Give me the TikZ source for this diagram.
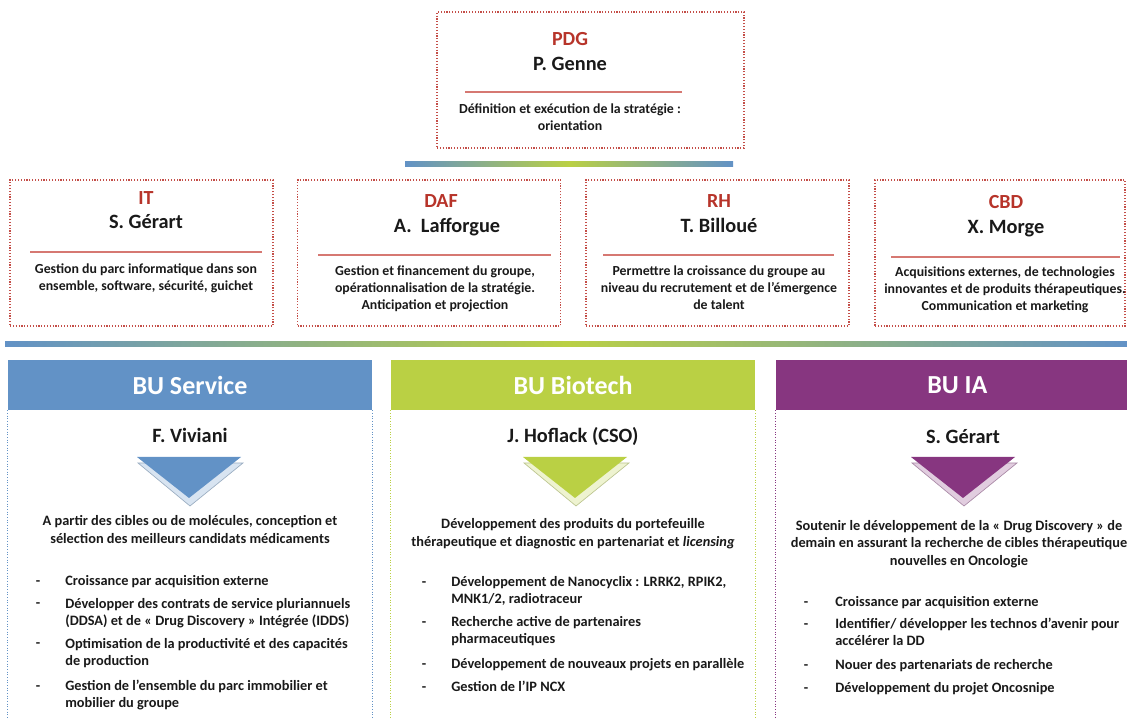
\documentclass[tikz,border=0pt]{standalone}
\usepackage{fontspec}
\setmainfont{Carlito}
\usepackage{xcolor}
\usetikzlibrary{positioning}
\definecolor{rolered}{RGB}{183,52,42}
\definecolor{boxred}{RGB}{196,78,72}
\definecolor{rulered}{RGB}{214,120,114}
\definecolor{txtdark}{RGB}{25,25,25}
\definecolor{bublue}{RGB}{98,146,198}
\definecolor{bugreen}{RGB}{186,208,68}
\definecolor{bupurple}{RGB}{135,54,128}

\begin{document}
\begin{tikzpicture}[x=0.6pt,y=-0.6pt,every node/.style={font=\bfseries,text=txtdark,inner sep=0pt}]
  \tikzset{
    box/.style={draw=boxred,densely dotted,line width=0.7pt,minimum width=157.8pt,minimum height=87.6pt},
    role/.style={anchor=base,text=rolered,font=\bfseries\fontsize{12}{14}\selectfont},
    who/.style={anchor=base,font=\bfseries\fontsize{12.2}{14}\selectfont},
    sep/.style={draw=rulered,line width=0.8pt},
    desc/.style={anchor=base,align=center,font=\bfseries\fontsize{8.3}{10.2}\selectfont},
    budesc/.style={anchor=base,align=center,font=\bfseries\fontsize{8.6}{10.8}\selectfont},
    bar/.style={left color=bublue,right color=bublue,middle color=bugreen,minimum height=3pt},
    buhead/.style={text=white,font=\bfseries\fontsize{15.6}{17}\selectfont,minimum width=218.4pt,minimum height=30pt},
    buline/.style={densely dotted,line width=0.6pt},
    buitem/.style={anchor=base west,align=left,font=\bfseries\fontsize{8.6}{10.2}\selectfont},
    bullet/.style={anchor=base,font=\bfseries\fontsize{8.6}{10.2}\selectfont}
  }
  \useasboundingbox (0,0) rectangle (1127,718);
  % direction
  \node[box,minimum width=184.2pt,minimum height=81.6pt] (pdg) at (590.5,80) {};
  \node[role] (pdgrole) at (570,46) {PDG};
  \node[who] (pdgname) at (570,71) {P. Genne};
  \draw[sep] (465,92) -- (682,92);
  \node[desc] (pdgdesc) at (570,131) {Définition et exécution de la stratégie :\\ orientation};
  \node[bar,minimum width=196.8pt] (bar1) at (569,164.5) {};
  % fonctions
  \node[box] (it) at (141.5,253) {};
  \node[role] (itrole) at (146,205) {IT};
  \node[who] (itname) at (146,229) {S. Gérart};
  \draw[sep] (30,252) -- (262,252);
  \node[desc] (itdesc) at (146,291) {Gestion du parc informatique dans son\\ ensemble, software, sécurité, guichet};
  \node[box] (daf) at (429,253) {};
  \node[role] (dafrole) at (441,208) {DAF};
  \node[who] (dafname) at (447,233) {A.~~Lafforgue};
  \draw[sep] (318,255) -- (551,255);
  \node[desc] (dafdesc) at (435,310) {Gestion et financement du groupe,\\ opérationnalisation de la stratégie.\\ Anticipation et projection};
  \node[box] (rh) at (717.5,253) {};
  \node[role] (rhrole) at (719,208) {RH};
  \node[who] (rhname) at (719,233) {T. Billoué};
  \draw[sep] (603,255) -- (834,255);
  \node[desc] (rhdesc) at (719,310) {Permettre la croissance du groupe au\\ niveau du recrutement et de l’émergence\\ de talent};
  \node[box,minimum width=150pt] (cbd) at (1000,253) {};
  \node[role] (cbdrole) at (1006,209) {CBD};
  \node[who] (cbdname) at (1006,234) {X. Morge};
  \draw[sep] (891,257) -- (1120,257);
  \node[desc] (cbddesc) at (1005,311) {Acquisitions externes, de technologies\\ innovantes et de produits thérapeutiques.\\ Communication et marketing};
  \node[bar,minimum width=673.2pt] (bar2) at (566,344.5) {};
  % BU
  \node[buhead,fill=bublue] (service) at (190,385) {BU Service};
  \node[buhead,fill=bugreen] (biotech) at (573,385) {BU Biotech};
  \node[buhead,fill=bupurple,minimum width=210.6pt] (ia) at (951.5,385) {\hspace{7pt}BU IA};
  \draw[buline,draw=bublue] (service.south west) -- ++(0,308);
  \draw[buline,draw=bublue] (service.south east) -- ++(0,308);
  \draw[buline,draw=bugreen] (biotech.south west) -- ++(0,308);
  \draw[buline,draw=bugreen] (biotech.south east) -- ++(0,308);
  \draw[buline,draw=bupurple] (ia.south west) -- ++(0,308);
  \node[who] (servicename) at (190,443) {F. Viviani};
  \node[who] (biotechname) at (573,443) {J. Hoflack (CSO)};
  \node[who] (ianame) at (963,444) {S. Gérart};
  \foreach \cx/\col in {189/bublue,575/bugreen,963/bupurple}{
    \filldraw[fill=\col!25,draw=\col!55!gray!70,line width=0.4pt] (\cx-51,463) -- (\cx+54,463) -- (\cx+1,506) -- cycle;
    \fill[\col] (\cx-52,457) -- (\cx+52,457) -- (\cx,498) -- cycle;
  }
  \node[budesc] (servicedesc) at (190,544) {A partir des cibles ou de molécules, conception et\\ sélection des meilleurs candidats médicaments};
  \node[budesc] (biotechdesc) at (573,547) {Développement des produits du portefeuille\\ thérapeutique et diagnostic en partenariat et \textit{licensing}};
  \node[budesc] (iadesc) at (959,566) {Soutenir le développement de la « Drug Discovery » de\\ demain en assurant la recherche de cibles thérapeutique\\ nouvelles en Oncologie};
  % BU Service
  \foreach \y in {585,608,648,690} \node[bullet] at (38,\y) {-};
  \node[buitem] (s1) at (65,585) {Croissance par acquisition externe};
  \node[buitem] (s2) at (65,625) {Développer des contrats de service pluriannuels\\ (DDSA) et de « Drug Discovery » Intégrée (IDDS)};
  \node[buitem] (s3) at (65,665) {Optimisation de la productivité et des capacités\\ de production};
  \node[buitem] (s4) at (65,707) {Gestion de l’ensemble du parc immobilier et\\ mobilier du groupe};
  % BU Biotech
  \foreach \y in {587,627,668,691} \node[bullet] at (424,\y) {-};
  \node[buitem] (b1) at (451,604) {Développement de Nanocyclix : LRRK2, RPIK2,\\ MNK1/2, radiotraceur};
  \node[buitem] (b2) at (451,644) {Recherche active de partenaires\\ pharmaceutiques};
  \node[buitem] (b3) at (451,668) {Développement de nouveaux projets en parallèle};
  \node[buitem] (b4) at (451,691) {Gestion de l’IP NCX};
  % BU IA
  \foreach \y in {606,628,669,692} \node[bullet] at (806,\y) {-};
  \node[buitem] (i1) at (835,606) {Croissance par acquisition externe};
  \node[buitem] (i2) at (835,645) {Identifier/ développer les technos d’avenir pour\\ accélérer la DD};
  \node[buitem] (i3) at (835,669) {Nouer des partenariats de recherche};
  \node[buitem] (i4) at (835,692) {Développement du projet Oncosnipe};
\end{tikzpicture}
\end{document}
